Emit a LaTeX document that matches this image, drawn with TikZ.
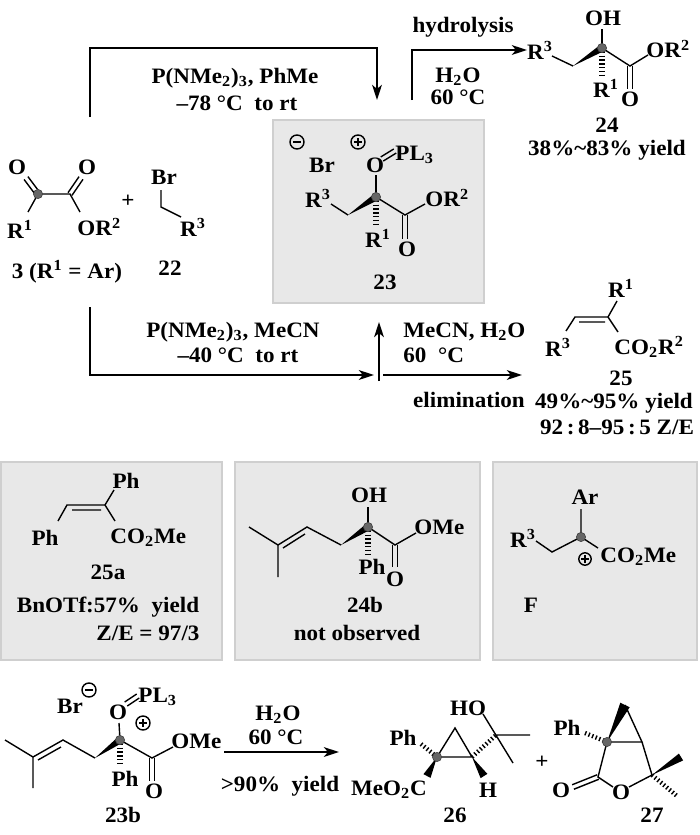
\documentclass[tikz,border=0pt]{standalone}
\usepackage{fontspec}
\setmainfont{Liberation Serif}[FakeStretch=1.05]
\usetikzlibrary{calc,arrows.meta}
\tikzset{
	txt/.style={font=\bfseries\fontsize{11}{12}\selectfont, inner sep=0.5pt},
	atom/.style={txt, inner sep=0pt},
	bond/.style={line width=0.7pt},
	hashbond/.style={line width=2.8pt, dash pattern=on 0.7pt off 1.2pt},
	arr/.style={line width=1.4pt, -{Stealth[length=7.5pt,width=4.8pt,inset=2pt]}},
	greybox/.style={fill=black!9, draw=black!19, line width=0.6pt},
	cdot/.style={circle, fill=black!60, draw=black!75, line width=0.3pt, inner sep=0pt, minimum size=4.6pt},
	pluscharge/.style={circle, draw, line width=0.7pt, inner sep=0pt, minimum size=7pt,
			path picture={\draw[line width=0.9pt] ([xshift=-2pt]path picture bounding box.center) -- ([xshift=2pt]path picture bounding box.center) ([yshift=-2pt]path picture bounding box.center) -- ([yshift=2pt]path picture bounding box.center);}},
	minuscharge/.style={circle, draw, line width=0.7pt, inner sep=0pt, minimum size=7pt,
			path picture={\draw[line width=0.9pt] ([xshift=-2pt]path picture bounding box.center) -- ([xshift=2pt]path picture bounding box.center);}}
}
\newcommand{\dblbond}[2]{\draw[bond] ($(#1)!1.2pt!90:(#2)$) -- ($(#2)!1.2pt!-90:(#1)$) ($(#1)!1.2pt!-90:(#2)$) -- ($(#2)!1.2pt!90:(#1)$);}
\newcommand{\wedgebond}[3][1.8pt]{\fill (#2) -- ($(#3)!#1!90:(#2)$) -- ($(#3)!#1!-90:(#2)$) -- cycle;}

\begin{document}
\begin{tikzpicture}[x=0.5pt,y=-0.5pt]
	\useasboundingbox (0,0) rectangle (700,835);

	\draw[greybox] (273,120) rectangle (484,303);
	\draw[greybox] (1,462) rectangle (222,660);
	\draw[greybox] (235,462) rectangle (480,660);
	\draw[greybox] (493,462) rectangle (697,660);

	\coordinate (c3a) at (38,194);
	\coordinate (c3b) at (70,194);
	\coordinate (e3a) at (28,212);
	\coordinate (e3b) at (80,212);
	\coordinate (e3c) at (26,178);
	\coordinate (e3d) at (81,178);
	\node[atom] (o3a) at (17,167) {O};
	\node[atom] (o3b) at (87,167) {O};
	\node[atom] (r3a) at (20,229) {R\textsuperscript{1}};
	\node[atom, anchor=west] (r3b) at (77,227) {OR\textsuperscript{2}};
	\draw[bond] (e3a) -- (c3a) -- (c3b) -- (e3b);
	\dblbond{c3a}{e3c}
	\dblbond{c3b}{e3d}
	\node[cdot] (d3) at (c3a) {};
	\node[txt] (plus1) at (128,201) {+};
	\node[atom] (br22) at (164,177) {Br};
	\coordinate (e22a) at (161,190);
	\coordinate (c22) at (161,207);
	\coordinate (e22b) at (181,217);
	\draw[bond] (e22a) -- (c22) -- (e22b);
	\node[atom] (r22) at (193,227) {R\textsuperscript{3}};
	\node[txt] (lab3) at (67,272) {3 (R\textsuperscript{1} = Ar)};
	\node[txt] (lab22) at (170,268) {22};

	\coordinate (a1s) at (90,117);
	\coordinate (a1m) at (377,48);
	\coordinate (a1e) at (377,100);
	\draw[arr] (a1s) |- (a1m) -- (a1e);
	\node[txt] (t1a) at (235,78) {P(NMe\textsubscript{2})\textsubscript{3}, PhMe};
	\node[txt] (t1b) at (237,103) {–78 °C\ \ to rt};

	\coordinate (a2s) at (412,100);
	\coordinate (a2e) at (527,50);
	\draw[arr] (a2s) |- (a2e);
	\node[txt] (t2a) at (463,27) {hydrolysis};
	\node[txt] (t2b) at (458,77) {H\textsubscript{2}O};
	\node[txt] (t2c) at (458,97) {60 °C};

	\node[minuscharge] (m23) at (297,142) {};
	\node[atom] (br23) at (322,165) {Br};
	\node[pluscharge] (p23) at (358,142) {};
	\node[atom] (o23) at (375,165) {O};
	\node[atom, anchor=west] (pl23) at (395,155) {PL\textsubscript{3}};
	\coordinate (e23a) at (382,159);
	\coordinate (e23b) at (395,151);
	\dblbond{e23a}{e23b}
	\coordinate (c23) at (376,197);
	\coordinate (e23c) at (376,175);
	\draw[bond] (e23c) -- (c23);
	\node[atom] (r23c) at (318,198) {R\textsuperscript{3}};
	\coordinate (e23d) at (331,204);
	\coordinate (ch23) at (348,215);
	\draw[bond] (e23d) -- (ch23);
	\wedgebond{ch23}{c23}
	\coordinate (e23e) at (376,227);
	\draw[hashbond] (c23) -- (e23e);
	\node[atom] (r23a) at (378,238) {R\textsuperscript{1}};
	\coordinate (co23) at (405,215);
	\coordinate (e23f) at (425,204);
	\draw[bond] (c23) -- (co23) -- (e23f);
	\node[atom, anchor=west] (r23b) at (425,198) {OR\textsuperscript{2}};
	\coordinate (e23g) at (405,239);
	\dblbond{co23}{e23g}
	\node[atom] (o23b) at (407,249) {O};
	\node[cdot] (d23) at (c23) {};
	\node[txt] (lab23) at (385,282) {23};

	\coordinate (c24) at (602,48);
	\node[atom] (oh24) at (603,18) {OH};
	\coordinate (e24a) at (602,29);
	\draw[bond] (e24a) -- (c24);
	\node[atom] (r24c) at (540,50) {R\textsuperscript{3}};
	\coordinate (e24b) at (552,56);
	\coordinate (ch24) at (573,66);
	\draw[bond] (e24b) -- (ch24);
	\wedgebond{ch24}{c24}
	\coordinate (e24c) at (602,76);
	\draw[hashbond] (c24) -- (e24c);
	\node[atom] (r24a) at (606,88) {R\textsuperscript{1}};
	\coordinate (co24) at (630,66);
	\coordinate (e24d) at (648,55);
	\draw[bond] (c24) -- (co24) -- (e24d);
	\node[atom, anchor=west] (r24b) at (646,49) {OR\textsuperscript{2}};
	\coordinate (e24e) at (630,89);
	\dblbond{co24}{e24e}
	\node[atom] (o24) at (630,99) {O};
	\node[cdot] (d24) at (c24) {};
	\node[txt] (lab24) at (607,125) {24};
	\node[txt] (y24) at (607,150) {38\%\textasciitilde83\% yield};

	\coordinate (a3s) at (90,307);
	\coordinate (a3e) at (374,375);
	\draw[arr] (a3s) |- (a3e);
	\coordinate (a4s) at (379,381);
	\coordinate (a4e) at (379,322);
	\draw[arr] (a4s) -- (a4e);
	\coordinate (a5s) at (383,375);
	\coordinate (a5e) at (522,375);
	\draw[arr] (a5s) -- (a5e);
	\node[txt] (t3a) at (233,332) {P(NMe\textsubscript{2})\textsubscript{3}, MeCN};
	\node[txt] (t3b) at (238,355) {–40 °C\ \ to rt};
	\node[txt, anchor=west] (t4a) at (402,332) {MeCN, H\textsubscript{2}O};
	\node[txt, anchor=west] (t4b) at (402,355) {60\ \ °C};
	\node[txt] (t4c) at (469,400) {elimination};

	\coordinate (c25a) at (575,317);
	\coordinate (c25b) at (608,317);
	\coordinate (i25a) at (579,322);
	\coordinate (i25b) at (605,322);
	\coordinate (e25a) at (566,331);
	\coordinate (e25b) at (617,301);
	\coordinate (e25c) at (618,332);
	\draw[bond] (e25a) -- (c25a) -- (c25b) -- (e25b) (c25b) -- (e25c) (i25a) -- (i25b);
	\node[atom] (r25c) at (558,347) {R\textsuperscript{3}};
	\node[atom] (r25a) at (621,288) {R\textsuperscript{1}};
	\node[atom, anchor=west] (r25b) at (614,347) {CO\textsubscript{2}R\textsuperscript{2}};
	\node[txt] (lab25) at (621,378) {25};
	\node[txt] (y25) at (614,403) {49\%\textasciitilde95\% yield};
	\node[txt] (ze25) at (617,427) {92\,:\,8–95\,:\,5 Z/E};

	\coordinate (c5aa) at (67,505);
	\coordinate (c5ab) at (105,505);
	\coordinate (i5aa) at (72,510);
	\coordinate (i5ab) at (101,510);
	\coordinate (e5aa) at (58,521);
	\coordinate (e5ab) at (114,490);
	\coordinate (e5ac) at (115,521);
	\draw[bond] (e5aa) -- (c5aa) -- (c5ab) -- (e5ab) (c5ab) -- (e5ac) (i5aa) -- (i5ab);
	\node[atom] (ph5a) at (126,481) {Ph};
	\node[atom] (ph5b) at (45,538) {Ph};
	\node[atom, anchor=west] (co5a) at (110,538) {CO\textsubscript{2}Me};
	\node[txt] (lab25a) at (108,572) {25a};
	\node[txt] (y25a) at (108,607) {BnOTf:57\%\ \ yield};
	\node[txt] (ze25a) at (148,633) {Z/E = 97/3};

	\coordinate (c4b) at (368,527);
	\node[atom] (oh4b) at (369,495) {OH};
	\coordinate (e4ba) at (368,507);
	\draw[bond] (e4ba) -- (c4b);
	\coordinate (ch4b) at (341,545);
	\coordinate (ce4b) at (307,527);
	\coordinate (cq4b) at (278,545);
	\coordinate (i4ba) at (305,534);
	\coordinate (i4bb) at (283,548);
	\coordinate (me4ba) at (249,527);
	\coordinate (me4bb) at (278,577);
	\wedgebond{ch4b}{c4b}
	\draw[bond] (ch4b) -- (ce4b) -- (cq4b) -- (me4ba) (cq4b) -- (me4bb) (i4ba) -- (i4bb);
	\coordinate (e4bb) at (368,554);
	\draw[hashbond] (c4b) -- (e4bb);
	\node[atom] (ph4b) at (372,567) {Ph};
	\coordinate (co4b) at (395,545);
	\coordinate (e4bc) at (416,533);
	\draw[bond] (c4b) -- (co4b) -- (e4bc);
	\node[atom, anchor=west] (ome4b) at (414,527) {OMe};
	\coordinate (e4bd) at (395,567);
	\dblbond{co4b}{e4bd}
	\node[atom] (o4b) at (395,579) {O};
	\node[cdot] (d4b) at (c4b) {};
	\node[txt] (lab24b) at (365,605) {24b};
	\node[txt] (no24b) at (357,633) {not observed};

	\node[atom] (arf) at (585,497) {Ar};
	\coordinate (cf) at (581,537);
	\coordinate (ef1) at (581,509);
	\coordinate (chf) at (552,552);
	\coordinate (ef2) at (536,541);
	\coordinate (ef3) at (598,548);
	\draw[bond] (ef1) -- (cf) -- (chf) -- (ef2) (cf) -- (ef3);
	\node[atom] (r3f) at (523,538) {R\textsuperscript{3}};
	\node[atom, anchor=west] (cof) at (600,557) {CO\textsubscript{2}Me};
	\node[pluscharge, minimum size=6.2pt] (pf) at (585,559) {};
	\node[cdot] (df) at (cf) {};
	\node[txt] (labf) at (531,605) {F};

	\node[atom] (br3b) at (70,706) {Br};
	\node[minuscharge] (m3b) at (89,690) {};
	\node[atom] (o3bb) at (118,712) {O};
	\coordinate (e3ba) at (126,704);
	\coordinate (e3bb) at (138,696);
	\dblbond{e3ba}{e3bb}
	\node[atom, anchor=west] (pl3b) at (138,697) {PL\textsubscript{3}};
	\node[pluscharge] (p3b) at (143,723) {};
	\coordinate (c3bb) at (120,740);
	\coordinate (e3bc) at (119,723);
	\draw[bond] (e3bc) -- (c3bb);
	\coordinate (ch3b) at (95,758);
	\coordinate (ce3b) at (63,740);
	\coordinate (cq3b) at (33,757);
	\coordinate (i3ba) at (61,747);
	\coordinate (i3bb) at (38,760);
	\coordinate (me3ba) at (5,740);
	\coordinate (me3bb) at (33,788);
	\wedgebond{ch3b}{c3bb}
	\draw[bond] (ch3b) -- (ce3b) -- (cq3b) -- (me3ba) (cq3b) -- (me3bb) (i3ba) -- (i3bb);
	\coordinate (e3bd) at (120,766);
	\draw[hashbond] (c3bb) -- (e3bd);
	\node[atom] (ph3b) at (125,779) {Ph};
	\coordinate (co3b) at (152,758);
	\coordinate (e3be) at (173,747);
	\draw[bond] (c3bb) -- (co3b) -- (e3be);
	\node[atom, anchor=west] (ome3b) at (171,741) {OMe};
	\coordinate (e3bf) at (152,781);
	\dblbond{co3b}{e3bf}
	\node[atom] (oc3b) at (154,791) {O};
	\node[cdot] (d3b) at (c3bb) {};
	\node[txt] (lab23b) at (123,815) {23b};

	\coordinate (a6s) at (224,752);
	\coordinate (a6e) at (339,752);
	\draw[arr] (a6s) -- (a6e);
	\node[txt] (t6a) at (278,715) {H\textsubscript{2}O};
	\node[txt] (t6b) at (276,737) {60 °C};
	\node[txt] (t6c) at (280,786) {>90\%\ \ yield};

	\coordinate (ct26) at (455,728);
	\coordinate (cl26) at (437,757);
	\coordinate (cr26) at (472,757);
	\draw[bond] (cl26) -- (ct26) -- (cr26) -- (cl26);
	\node[atom] (ph26) at (403,738) {Ph};
	\coordinate (e26a) at (421,744);
	\draw[hashbond, line width=2.2pt] (e26a) -- (cl26);
	\coordinate (e26b) at (427,776);
	\wedgebond[2pt]{cl26}{e26b}
	\node[atom] (co26) at (389,790) {MeO\textsubscript{2}C};
	\coordinate (q26) at (496,735);
	\draw[hashbond, line width=2.2pt] (cr26) -- (q26);
	\coordinate (e26c) at (484,776);
	\wedgebond[2pt]{cr26}{e26c}
	\node[atom] (h26) at (488,790) {H};
	\coordinate (e26d) at (483,714);
	\coordinate (e26e) at (513,763);
	\coordinate (e26f) at (530,735);
	\draw[bond] (e26d) -- (e26e) (q26) -- (e26f);
	\node[atom] (ho26) at (468,708) {HO};
	\node[cdot] (d26) at (cl26) {};
	\node[txt] (lab26) at (455,815) {26};

	\node[txt] (plus2) at (542,762) {+};

	\coordinate (c27) at (607,742);
	\coordinate (ct27) at (625,705);
	\coordinate (cr27) at (642,742);
	\wedgebond[2.6pt]{c27}{ct27}
	\draw[bond] (ct27) -- (cr27) -- (c27);
	\node[atom] (ph27) at (567,728) {Ph};
	\coordinate (e27a) at (585,733);
	\draw[hashbond, line width=2.2pt] (e27a) -- (c27);
	\coordinate (cc27) at (598,777);
	\coordinate (e27b) at (573,787);
	\coordinate (e27c) at (613,787);
	\coordinate (e27d) at (629,787);
	\coordinate (q27) at (652,775);
	\draw[bond] (c27) -- (cc27) -- (e27c) (e27d) -- (q27) -- (cr27);
	\dblbond{cc27}{e27b}
	\node[atom] (oc27) at (561,790) {O};
	\node[atom] (or27) at (621,792) {O};
	\coordinate (e27e) at (681,757);
	\coordinate (e27f) at (677,796);
	\wedgebond[2pt]{q27}{e27e}
	\draw[hashbond, line width=2.2pt] (q27) -- (e27f);
	\node[cdot] (d27) at (c27) {};
	\node[txt] (lab27) at (652,815) {27};
\end{tikzpicture}
\end{document}
